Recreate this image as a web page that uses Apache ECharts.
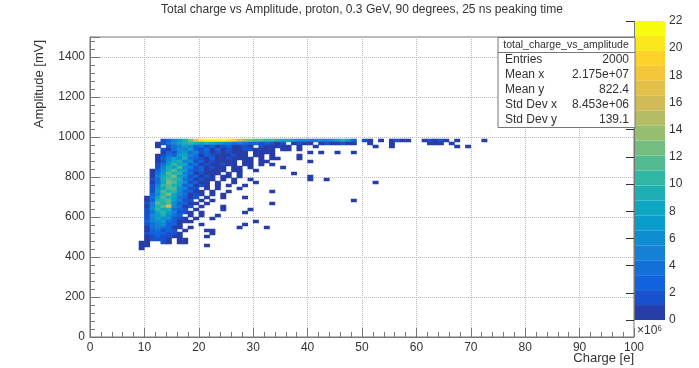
<!DOCTYPE html>
<html>
<head>
<meta charset="utf-8">
<script src="https://cdn.jsdelivr.net/npm/echarts@6/dist/echarts.min.js"></script>
<style>
  html, body { margin: 0; padding: 0; background: #fff; }
  #main { width: 699px; height: 368px; }
</style>
</head>
<body>
<div id="main"></div>
<script>
// 2D histogram: charge bins of 1e6 e (0..100), amplitude bins of 15 mV (0..1500)
const xBinCount = 100;
const yBinCount = 100;
const zMax = 22;
const nLevels = 20;

// one entry per amplitude row: amplitude bin index, first charge bin, counts from there on
const rowAmpBin = [65, 64, 63, 62, 61, 60, 59, 58, 57, 56, 55, 54, 53, 52, 51, 50, 49, 48, 47,
  46, 45, 44, 43, 42, 41, 40, 39, 38, 37, 36, 35, 34, 33, 32, 31, 30, 29];
const rowFirstBin = [13, 12, 12, 13, 13, 12, 12, 12, 12, 12, 11, 11, 11, 11, 11, 11, 11, 11, 11,
  10, 10, 10, 10, 10, 10, 10, 10, 10, 10, 10, 10, 10, 10, 10, 9, 9, 9];
const rowCounts = [
  [2, 3, 5, 7, 9, 13, 17, 20, 21, 22, 21, 21, 20, 19, 16, 14, 13, 12, 11, 10, 10, 9, 8, 8, 7, 6, 6, 5, 5, 6, 5, 6, 7, 9, 7, 3,
    0, 2, 1, 0, 1, 0, 1, 2, 1, 1, 0, 0, 1, 2, 1, 2, 1, 0, 1, 0, 0, 0, 0, 1],
  [1, 2, 4, 6, 8, 9, 10, 9, 8, 9, 8, 7, 6, 5, 4, 5, 4, 3, 3, 2, 3, 2, 1, 2,
    0, 1, 2, 1, 1, 0, 1, 2, 1, 1, 2, 1, 1, 0, 0, 1, 0, 0, 0, 1, 0, 0, 0, 0, 0, 0, 1, 1, 1, 0, 1],
  [1, 0, 2, 4, 5, 7, 6, 3, 4, 2, 3, 1, 2, 3, 1, 1, 2, 1, 0, 2, 1, 1, 1, 1, 1, 0, 1, 0, 0, 1, 0, 0, 0, 0, 0, 0, 0, 0, 0, 0,
    1, 0, 0, 1, 0, 0, 0, 0, 0, 0, 0, 0, 0, 0, 0, 1, 0, 1],
  [2, 1, 4, 6, 5, 7, 3, 2, 4, 1, 3, 1, 2, 1, 1, 2, 2, 1, 1, 1, 1, 0, 1, 1, 0, 1],
  [1, 3, 2, 6, 7, 4, 5, 2, 3, 1, 2, 1, 2, 1, 1, 1, 0, 1, 1, 1, 1, 0, 0, 0, 0, 0, 0, 1, 0, 1, 0, 0, 1, 0, 0, 1],
  [1, 2, 4, 3, 7, 8, 5, 4, 1, 3, 2, 1, 1, 1, 2, 1, 1, 0, 1, 1, 0, 1, 0, 0, 0, 0, 1],
  [1, 3, 5, 7, 6, 9, 4, 3, 2, 1, 3, 1, 1, 2, 1, 1, 1, 1, 0, 1, 0, 1, 1, 0, 0, 0, 1],
  [1, 2, 6, 8, 9, 5, 6, 2, 3, 1, 2, 1, 1, 1, 1, 0, 1, 1, 0, 1, 1, 0, 0, 0, 0, 0, 0, 0, 1],
  [2, 4, 7, 10, 8, 8, 3, 4, 1, 2, 1, 1, 2, 1, 1, 0, 1, 1, 0, 1, 0, 1],
  [2, 5, 9, 7, 11, 6, 5, 2, 3, 1, 2, 1, 1, 0, 1, 1, 0, 1, 0, 0, 0, 0, 0, 1],
  [1, 3, 6, 9, 12, 8, 7, 3, 2, 3, 1, 1, 1, 1, 0, 1, 1, 0, 0, 1],
  [1, 4, 7, 11, 9, 10, 5, 4, 1, 2, 1, 1, 1, 0, 1, 0, 1, 0, 0, 0, 0, 0, 0, 0, 0, 0, 1],
  [1, 5, 8, 10, 13, 7, 6, 2, 3, 1, 2, 1, 0, 1, 1, 0, 1, 0, 0, 0, 0, 0, 0, 0, 0, 0, 0, 0, 0, 1],
  [2, 4, 9, 12, 10, 9, 4, 3, 1, 2, 1, 1, 0, 1, 0, 1, 0, 0, 1, 0, 0, 0, 0, 0, 0, 0, 0, 0, 0, 1, 0, 0, 1],
  [1, 4, 8, 13, 11, 8, 6, 2, 3, 1, 1, 0, 1, 0, 0, 1, 0, 0, 0, 1,
    0, 0, 0, 0, 0, 0, 0, 0, 0, 0, 0, 0, 0, 0, 0, 0, 0, 0, 0, 0, 0, 1],
  [2, 5, 10, 12, 9, 8, 3, 4, 1, 2, 1, 0, 1, 0, 1, 0, 0, 1],
  [2, 6, 8, 11, 12, 6, 5, 2, 2, 0, 1, 0, 1, 0, 0, 0, 1],
  [2, 7, 11, 9, 10, 6, 3, 3, 1, 1, 0, 1, 0, 0, 1, 0, 0, 0, 0, 0, 0, 0, 1],
  [3, 6, 10, 13, 8, 5, 4, 1, 2, 1, 0, 1, 0, 1],
  [1, 4, 8, 12, 9, 8, 4, 3, 1, 2, 0, 1, 0, 0, 1, 0, 0, 0, 1],
  [1, 3, 9, 10, 12, 7, 5, 2, 2, 0, 1, 0, 1,
    0, 0, 0, 0, 0, 0, 0, 0, 0, 0, 0, 0, 0, 0, 0, 0, 0, 0, 0, 0, 0, 0, 0, 0, 0, 1],
  [2, 5, 11, 9, 11, 6, 3, 3, 1, 1, 0, 1, 0, 0, 0, 0, 0, 0, 0, 0, 0, 0, 0, 1],
  [1, 5, 9, 12, 16, 6, 4, 1, 2, 0, 1, 0, 0, 0, 1],
  [2, 6, 10, 8, 9, 4, 3, 2, 0, 1, 0, 0, 0, 0, 1, 0, 0, 0, 0, 1],
  [2, 4, 8, 10, 7, 5, 2, 2, 1, 0, 1, 0, 0, 0, 0, 0, 0, 0, 1],
  [2, 6, 7, 9, 6, 4, 3, 0, 1, 0, 1, 0, 0, 1],
  [2, 5, 8, 6, 6, 3, 2, 1, 0, 1, 0, 0, 1],
  [3, 5, 6, 7, 4, 3, 1, 1, 1, 0, 0, 0, 0, 0, 0, 0, 0, 0, 0, 0, 1],
  [2, 4, 5, 6, 3, 3, 1, 0, 0, 0, 1, 0, 0, 0, 0, 0, 0, 0, 1],
  [1, 4, 5, 4, 3, 1, 1, 0, 1, 0, 0, 0, 0, 0, 0, 0, 0, 1, 0, 0, 0, 0, 1],
  [1, 3, 4, 2, 3, 2, 0, 1, 0, 0, 0, 1, 1],
  [2, 3, 3, 3, 2, 2, 1, 0, 0, 0, 0, 0, 1],
  [1, 2, 3, 2, 2, 1, 1, 0, 0, 0, 0, 1],
  [1, 2, 2, 2, 1, 0, 1, 1],
  [1, 1, 0, 0, 2, 1, 0, 1, 1],
  [1, 1, 0, 0, 0, 0, 0, 0, 0, 0, 0, 0, 1],
  [1]
];

const statTitle = 'total_charge_vs_amplitude';
const statNames = ['Entries', 'Mean x', 'Mean y', 'Std Dev x', 'Std Dev y'];
const statValues = ['2000', '2.175e+07', '822.4', '8.453e+06', '139.1'];

const font = 'Liberation Sans, Arial, sans-serif';

// ROOT kBird palette
const birdStops = [0, 0.125, 0.25, 0.375, 0.5, 0.625, 0.75, 0.875, 1];
const birdR = [0.2082, 0.0592, 0.0780, 0.0232, 0.1802, 0.5301, 0.8186, 0.9956, 0.9764];
const birdG = [0.1664, 0.3599, 0.5041, 0.6419, 0.7178, 0.7492, 0.7328, 0.7862, 0.9832];
const birdB = [0.5293, 0.8684, 0.8385, 0.7914, 0.6425, 0.4662, 0.3499, 0.1968, 0.0539];
function birdColor(f) {
  let i = 0;
  while (i < birdStops.length - 2 && f > birdStops[i + 1]) i++;
  const t = (f - birdStops[i]) / (birdStops[i + 1] - birdStops[i]);
  const c = function (a) { return Math.round(255 * (a[i] + (a[i + 1] - a[i]) * t)); };
  return 'rgb(' + c(birdR) + ',' + c(birdG) + ',' + c(birdB) + ')';
}

const pieces = [];
for (let i = 0; i < nLevels; i++) {
  const f = Math.floor((i + 0.99) * 255 / nLevels) / 254;
  const p = { gte: zMax * i / nLevels, color: birdColor(Math.min(f, 1)) };
  if (i < nLevels - 1) p.lt = zMax * (i + 1) / nLevels; else p.lte = zMax + 1;
  pieces.push(p);
}

const heatData = [];
rowAmpBin.forEach(function (j, r) {
  rowCounts[r].forEach(function (c, k) {
    if (c > 0) heatData.push([rowFirstBin[r] + k, j, c]);
  });
});

const xCats = [];
for (let i = 0; i < xBinCount; i++) xCats.push(i);
const yCats = [];
for (let i = 0; i < yBinCount; i++) yCats.push(i);

const plainNumber = function (v) { return String(v); };

const axisGrey = '#777';
const statGraphics = [
  { type: 'rect', z: 100, shape: { x: 498, y: 37.5, width: 137, height: 90 }, style: { fill: '#fff', stroke: axisGrey, lineWidth: 1 } },
  { type: 'line', z: 100, shape: { x1: 498, y1: 52.5, x2: 635, y2: 52.5 }, style: { stroke: axisGrey, lineWidth: 1 } },
  { type: 'text', z: 101, x: 566, y: 45, style: { text: statTitle, align: 'center', verticalAlign: 'middle', font: '10.5px ' + font, fill: '#333' } }
];
statNames.forEach(function (name, i) {
  const y = 60 + i * 14.8;
  statGraphics.push({ type: 'text', z: 101, x: 505, y: y, style: { text: name, align: 'left', verticalAlign: 'middle', font: '12px ' + font, fill: '#333' } });
  statGraphics.push({ type: 'text', z: 101, x: 629, y: y, style: { text: statValues[i], align: 'right', verticalAlign: 'middle', font: '12px ' + font, fill: '#333' } });
});

const myChart = echarts.init(document.getElementById('main'));
const option = {
  animation: false,
  backgroundColor: '#fff',
  textStyle: { fontFamily: font },
  grid: [
    { left: 90, top: 37, width: 544, height: 300 },
    { left: 90, top: 37, width: 544, height: 300, show: true, borderColor: axisGrey, borderWidth: 1, backgroundColor: 'transparent' },
    { left: 634, top: 21, width: 31, height: 299 }
  ],
  xAxis: [
    { gridIndex: 0, type: 'category', data: xCats, show: false },
    {
      gridIndex: 1, type: 'value', min: 0, max: 100, interval: 10,
      axisLine: { show: true, lineStyle: { color: axisGrey } },
      axisTick: { show: true, inside: true, length: 9, lineStyle: { color: axisGrey } },
      minorTick: { show: true, splitNumber: 5, length: 5, lineStyle: { color: axisGrey } },
      splitLine: { show: true, lineStyle: { type: 'dotted', color: '#bbb' } },
      axisLabel: { color: '#333', fontSize: 12, margin: 5, formatter: plainNumber }
    },
    { gridIndex: 2, type: 'value', show: false, min: 0, max: 1 }
  ],
  yAxis: [
    { gridIndex: 0, type: 'category', data: yCats, show: false },
    {
      gridIndex: 1, type: 'value', min: 0, max: 1500, interval: 200,
      axisLine: { show: true, lineStyle: { color: axisGrey } },
      axisTick: { show: true, inside: true, length: 10, lineStyle: { color: axisGrey } },
      minorTick: { show: true, splitNumber: 5, length: 5, lineStyle: { color: axisGrey } },
      splitLine: { show: true, lineStyle: { type: 'dotted', color: '#bbb' } },
      axisLabel: { color: '#333', fontSize: 12, margin: 5, showMaxLabel: false, formatter: plainNumber },
      name: 'Amplitude [mV]', nameLocation: 'end', nameRotate: 90, nameGap: -3,
      nameTextStyle: { color: '#333', fontSize: 13, align: 'right', verticalAlign: 'bottom', padding: [0, 0, 44, 0] }
    },
    {
      gridIndex: 2, type: 'value', position: 'right', min: 0, max: zMax, interval: 2, z: 10,
      axisLine: { show: true, lineStyle: { color: axisGrey } },
      axisTick: { show: true, inside: true, length: 8, lineStyle: { color: '#333' } },
      splitLine: { show: false },
      axisLabel: { color: '#333', fontSize: 12, margin: 4, formatter: plainNumber }
    }
  ],
  visualMap: {
    type: 'piecewise',
    seriesIndex: 0,
    dimension: 2,
    pieces: pieces,
    orient: 'vertical',
    left: 634,
    top: 21,
    padding: 0,
    itemWidth: 31,
    itemHeight: 299 / nLevels,
    itemGap: 0,
    itemSymbol: 'rect',
    showLabel: false,
    selectedMode: false,
    hoverLink: false
  },
  graphic: [
    { type: 'text', x: 362, y: 10, style: { text: 'Total charge vs Amplitude, proton, 0.3 GeV, 90 degrees, 25 ns peaking time', align: 'center', verticalAlign: 'middle', font: '12px ' + font, fill: '#333' } },
    { type: 'text', x: 637, y: 331, style: { text: '×10⁶', align: 'left', verticalAlign: 'middle', font: '12px ' + font, fill: '#333' } },
    { type: 'text', x: 634, y: 358, style: { text: 'Charge [e]', align: 'right', verticalAlign: 'middle', font: '13px ' + font, fill: '#333' } }
  ].concat(statGraphics),
  series: [{
    type: 'heatmap',
    xAxisIndex: 0,
    yAxisIndex: 0,
    data: heatData,
    progressive: 0,
    emphasis: { disabled: true }
  }]
};
myChart.setOption(option);
window.addEventListener('resize', function () {
  myChart.resize();
});
</script>
</body>
</html>
